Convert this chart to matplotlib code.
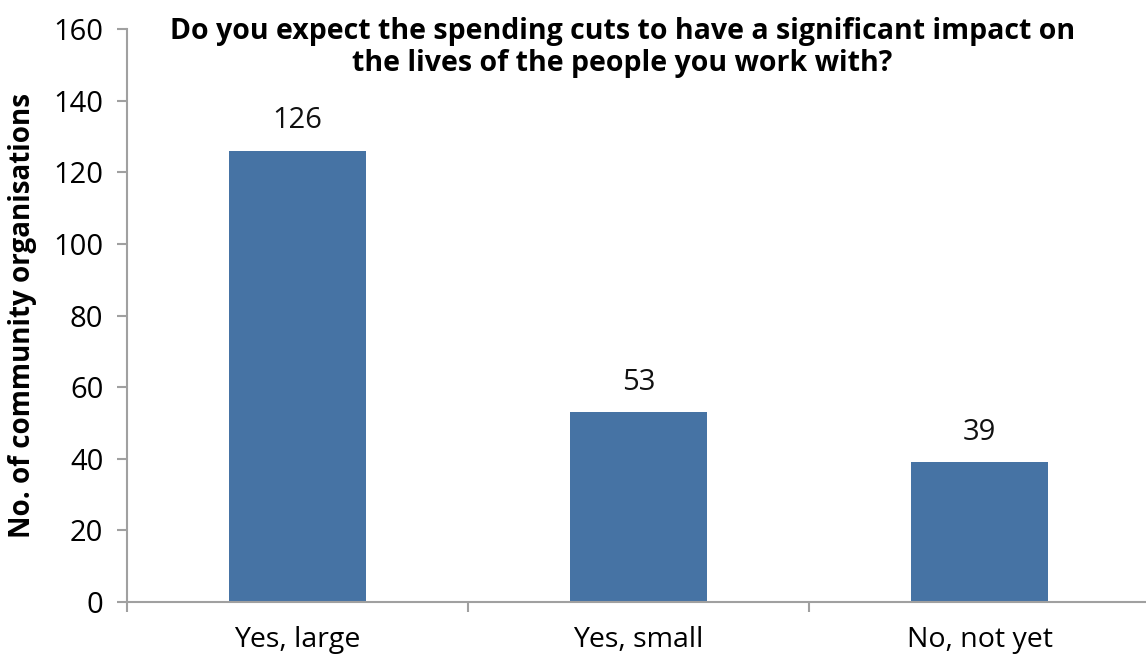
import matplotlib
matplotlib.use("Agg")
import matplotlib.pyplot as plt
import numpy as np

categories = ["Yes, large", "Yes, small", "No, not yet"]
counts = [126, 53, 39]
y_ticks = [0, 20, 40, 60, 80, 100, 120, 140, 160]

title = "Do you expect the spending cuts to have a significant impact on\nthe lives of the people you work with?"
y_label = "No. of community organisations"

plt.rcParams["font.family"] = ["Open Sans", "DejaVu Sans"]
bar_color = "#4673a4"
axis_color = "#a0a0a0"

fig = plt.figure(figsize=(11.46, 6.55), dpi=100)
ax = fig.add_axes([0.1108, 0.0809, 0.8927, 0.8748])

x = np.arange(len(categories))
bars = ax.bar(x, counts, width=0.40, color=bar_color, zorder=2)

for xi, v in zip(x, counts):
    ax.annotate(str(v), (xi, v), xytext=(0, 11), textcoords="offset points",
                ha="center", va="bottom", fontsize=21, color="#111111")

ax.set_xlim(-0.5, len(categories) - 0.5)
ax.set_ylim(0, 160)
ax.set_yticks(y_ticks)
ax.set_yticklabels([str(t) for t in y_ticks], fontsize=21)

ax.set_xticks(x)
ax.set_xticklabels(categories, fontsize=20.5)
ax.tick_params(axis="x", which="major", length=0, pad=17)
ax.set_xticks(np.arange(-0.5, len(categories), 1.0), minor=True)
ax.tick_params(axis="x", which="minor", length=7, color=axis_color, width=1.5)
ax.tick_params(axis="y", length=7, color=axis_color, width=1.5, pad=10)

for side in ["top", "right"]:
    ax.spines[side].set_visible(False)
for side in ["left", "bottom"]:
    ax.spines[side].set_color(axis_color)
    ax.spines[side].set_linewidth(1.5)

ax.set_ylabel(y_label, fontsize=20, fontweight="bold", labelpad=12)
fig.text(0.543, 0.974, title, ha="center", va="top", fontsize=20.5,
         fontweight="bold", linespacing=1.15)

fig.savefig("out.png", dpi=100)
